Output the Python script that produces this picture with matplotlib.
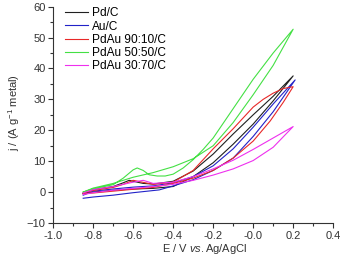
import numpy as np
import matplotlib.pyplot as plt

plt.rcParams['font.family'] = ['Liberation Sans', 'DejaVu Sans']
plt.rcParams['mathtext.fontset'] = 'custom'
plt.rcParams['mathtext.rm'] = 'Liberation Sans'
plt.rcParams['mathtext.it'] = 'Liberation Sans:italic'

# Anodic scan (forward) and return scan, potential E in V vs Ag/AgCl, j in A/g
pd_E_fwd = [-0.85, -0.8, -0.7, -0.6, -0.5, -0.4, -0.3, -0.2, -0.1, 0.0, 0.1, 0.2]
pd_j_fwd = [-0.5, 0.0, 0.6, 1.0, 1.2, 1.8, 5.0, 9.5, 15.5, 22.0, 29.5, 37.6]
pd_E_back = [0.2, 0.1, 0.0, -0.1, -0.2, -0.3, -0.4, -0.5, -0.55, -0.6, -0.62, -0.65, -0.7, -0.8, -0.85]
pd_j_back = [37.6, 31.0, 25.0, 18.8, 12.3, 6.8, 3.5, 2.6, 2.8, 3.5, 3.8, 3.0, 1.8, 0.8, -0.5]

au_E_fwd = [-0.85, -0.8, -0.7, -0.6, -0.47, -0.4, -0.3, -0.2, -0.1, 0.0, 0.1, 0.21]
au_j_fwd = [-2.0, -1.6, -1.0, -0.2, 0.7, 2.0, 4.0, 7.0, 11.0, 18.0, 26.0, 36.3]
au_E_back = [0.21, 0.1, 0.0, -0.1, -0.2, -0.3, -0.4, -0.5, -0.6, -0.7, -0.8, -0.85]
au_j_back = [36.3, 28.5, 21.0, 14.0, 8.5, 5.0, 3.0, 2.0, 1.6, 1.0, 0.3, -1.0]

r91_E_fwd = [-0.85, -0.8, -0.7, -0.6, -0.5, -0.4, -0.3, -0.2, -0.1, 0.0, 0.085, 0.15, 0.2]
r91_j_fwd = [-0.5, -0.3, 0.3, 0.9, 1.5, 2.8, 4.5, 7.0, 11.0, 16.5, 23.0, 29.0, 34.1]
r91_E_back = [0.2, 0.15, 0.1, 0.05, 0.0, -0.1, -0.2, -0.3, -0.4, -0.5, -0.6, -0.65, -0.7, -0.8, -0.85]
r91_j_back = [34.1, 33.5, 32.0, 30.0, 27.5, 20.5, 14.0, 7.0, 3.2, 2.5, 3.8, 2.5, 1.5, 0.5, -0.2]

r55_E_fwd = [-0.85, -0.8, -0.7, -0.6, -0.5, -0.4, -0.3, -0.2, -0.1, 0.0, 0.1, 0.2]
r55_j_fwd = [0.0, 1.3, 2.8, 4.8, 6.3, 8.2, 10.8, 15.0, 22.5, 31.5, 41.0, 52.7]
r55_E_back = [0.2, 0.1, 0.0, -0.1, -0.2, -0.25, -0.3, -0.35, -0.4, -0.44, -0.48, -0.52, -0.55, -0.58, -0.6, -0.65, -0.7, -0.75, -0.8, -0.85]
r55_j_back = [52.7, 45.0, 36.5, 27.0, 17.5, 13.8, 10.5, 7.8, 5.8, 5.2, 5.2, 5.6, 7.0, 7.8, 7.2, 4.5, 2.4, 1.7, 1.0, 0.0]

r37_E_fwd = [-0.85, -0.8, -0.7, -0.6, -0.5, -0.4, -0.3, -0.2, -0.1, 0.0, 0.1, 0.2]
r37_j_fwd = [-0.8, -0.2, 0.6, 1.2, 1.8, 2.5, 3.8, 5.5, 7.5, 10.2, 14.5, 21.2]
r37_E_back = [0.2, 0.1, 0.0, -0.1, -0.2, -0.3, -0.4, -0.5, -0.55, -0.6, -0.7, -0.8, -0.85]
r37_j_back = [21.2, 17.5, 13.8, 10.3, 7.5, 5.0, 3.2, 2.8, 3.8, 3.2, 1.8, 0.8, -0.3]

labels = ["Pd/C", "Au/C", "PdAu 90:10/C", "PdAu 50:50/C", "PdAu 30:70/C"]
colors = ["#202020", "#2222c8", "#e82828", "#44e044", "#ee30ee"]
series = [
    (pd_E_fwd, pd_j_fwd, pd_E_back, pd_j_back),
    (au_E_fwd, au_j_fwd, au_E_back, au_j_back),
    (r91_E_fwd, r91_j_fwd, r91_E_back, r91_j_back),
    (r55_E_fwd, r55_j_fwd, r55_E_back, r55_j_back),
    (r37_E_fwd, r37_j_fwd, r37_E_back, r37_j_back),
]

fig = plt.figure(figsize=(3.41, 2.56), dpi=100)
ax = fig.add_axes([0.156, 0.129, 0.821, 0.845])

for (ef, jf, eb, jb), lab, col in zip(series, labels, colors):
    E = np.concatenate([ef, eb[1:]])
    j = np.concatenate([jf, jb[1:]])
    ax.plot(E, j, color=col, linewidth=0.8, label=lab)

ax.set_xlim(-1.0, 0.4)
ax.set_ylim(-10, 60)
ax.set_xticks(np.arange(-1.0, 0.41, 0.2))
ax.set_xticks(np.arange(-1.0, 0.41, 0.1), minor=True)
ax.set_yticks(np.arange(-10, 61, 10))
ax.set_yticks(np.arange(-10, 61, 5), minor=True)
ax.xaxis.set_major_formatter(plt.FuncFormatter(lambda v, p: "%.1f" % v))
ax.tick_params(which='major', direction='out', length=3.5, width=0.8, labelsize=8, pad=2, colors='#333333')
ax.tick_params(which='minor', direction='out', length=2, width=0.8, colors='#333333')

for s in ['top', 'right']:
    ax.spines[s].set_visible(False)
for s in ['left', 'bottom']:
    ax.spines[s].set_linewidth(0.8)
    ax.spines[s].set_color('#333333')

ax.set_xlabel("E / V $\\it{vs.}$Ag/AgCl", fontsize=8, color='#333333')
ax.xaxis.set_label_coords(0.54, -0.088)
ax.set_ylabel("j / (A g$^{-1}$ metal)", fontsize=8, color='#333333')
ax.yaxis.set_label_coords(-0.11, 0.51)

ax.legend(loc='upper left', bbox_to_anchor=(0.015, 1.03), frameon=False, fontsize=8.6,
          handlelength=2.0, handletextpad=0.3, labelspacing=0.1, borderaxespad=0.2)

fig.savefig("out.png", dpi=100)
